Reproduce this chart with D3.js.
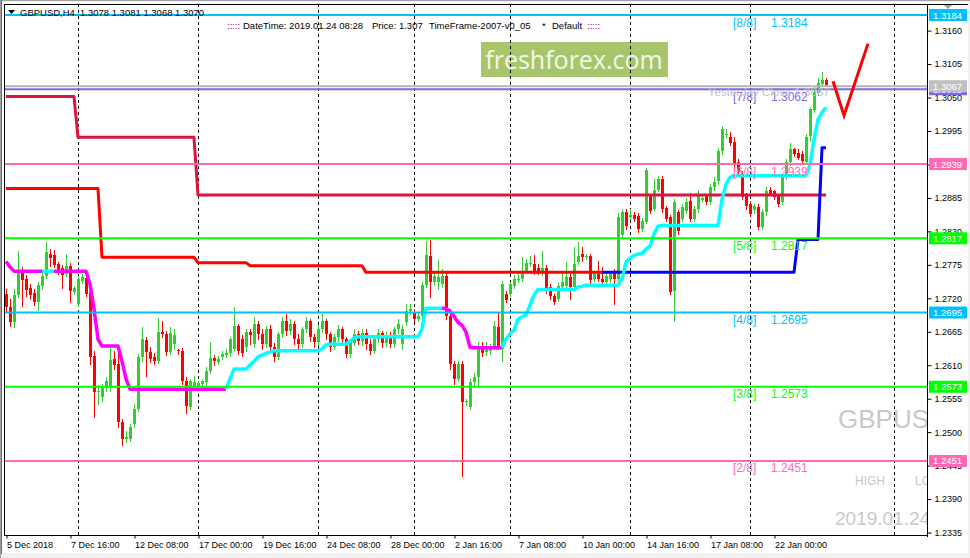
<!DOCTYPE html>
<html><head><meta charset="utf-8">
<script src="https://cdn.jsdelivr.net/npm/d3@7"></script>
<style>body{margin:0;background:#fff;} svg{display:block;font-family:"Liberation Sans",Arial,sans-serif;}</style>
</head><body><svg id="c" width="970" height="558"></svg>
<script>
// ---------------- DATA ----------------
const openPrices = [1.2725,1.2704,1.2679,1.2724,1.2763,1.2750,1.2735,1.2727,1.2712,1.2738,
1.2755,1.2792,1.2789,1.2774,1.2768,1.2758,1.2771,1.2729,1.2709,1.2747,
1.2751,1.2729,1.2624,1.2565,1.2556,1.2571,1.2571,1.2619,1.2610,1.2515,
1.2487,1.2487,1.2512,1.2537,1.2622,1.2650,1.2630,1.2622,1.2615,1.2663,
1.2660,1.2630,1.2643,1.2633,1.2632,1.2583,1.2540,1.2574,1.2574,1.2578,
1.2581,1.2599,1.2620,1.2614,1.2622,1.2625,1.2628,1.2635,1.2673,1.2651,
1.2638,1.2663,1.2643,1.2676,1.2660,1.2643,1.2668,1.2638,1.2622,1.2660,
1.2681,1.2665,1.2676,1.2651,1.2643,1.2668,1.2681,1.2655,1.2646,1.2668,
1.2681,1.2660,1.2638,1.2655,1.2668,1.2651,1.2627,1.2646,1.2660,1.2648,
1.2661,1.2643,1.2632,1.2651,1.2661,1.2645,1.2658,1.2643,1.2668,1.2643,
1.2679,1.2697,1.2696,1.2684,1.2689,1.2740,1.2788,1.2745,1.2745,1.2742,
1.2755,1.2689,1.2610,1.2586,1.2610,1.2548,1.2540,1.2581,1.2589,1.2635,
1.2630,1.2632,1.2638,1.2671,1.2635,1.2725,1.2725,1.2738,1.2748,1.2750,
1.2763,1.2774,1.2774,1.2768,1.2761,1.2768,1.2737,1.2722,1.2717,1.2737,
1.2738,1.2753,1.2737,1.2778,1.2791,1.2786,1.2788,1.2750,1.2758,1.2750,
1.2745,1.2750,1.2761,1.2750,1.2822,1.2860,1.2853,1.2856,1.2853,1.2832,
1.2845,1.2886,1.2866,1.2897,1.2915,1.2866,1.2852,1.2730,1.2860,1.2848,
1.2861,1.2878,1.2848,1.2865,1.2881,1.2886,1.2878,1.2902,1.2910,1.2960,
1.2988,1.2984,1.2976,1.2942,1.2922,1.2886,1.2873,1.2863,1.2868,1.2835,
1.2860,1.2897,1.2894,1.2886,1.2876,1.2917,1.2942,1.2963,1.2958,1.2955,
1.2943,1.2984,1.3029,1.3056,1.3071,1.3078];
const highPrices = [1.2733,1.2717,1.2733,1.2796,1.2770,1.2756,1.2742,1.2733,1.2745,1.2761,
1.2811,1.2799,1.2797,1.2778,1.2773,1.2791,1.2776,1.2738,1.2755,1.2758,
1.2756,1.2733,1.2632,1.2576,1.2578,1.2589,1.2638,1.2632,1.2635,1.2520,
1.2501,1.2512,1.2545,1.2627,1.2671,1.2655,1.2638,1.2628,1.2686,1.2681,
1.2665,1.2671,1.2668,1.2635,1.2637,1.2589,1.2586,1.2591,1.2583,1.2586,
1.2606,1.2646,1.2625,1.2624,1.2632,1.2635,1.2655,1.2704,1.2676,1.2658,
1.2668,1.2668,1.2688,1.2681,1.2668,1.2673,1.2674,1.2645,1.2663,1.2688,
1.2692,1.2684,1.2681,1.2660,1.2671,1.2688,1.2684,1.2660,1.2674,1.2692,
1.2684,1.2663,1.2660,1.2674,1.2671,1.2655,1.2651,1.2668,1.2665,1.2668,
1.2668,1.2651,1.2655,1.2668,1.2665,1.2663,1.2663,1.2671,1.2684,1.2674,
1.2709,1.2709,1.2701,1.2694,1.2745,1.2812,1.2815,1.2760,1.2781,1.2766,
1.2763,1.2701,1.2615,1.2615,1.2615,1.2553,1.2586,1.2596,1.2646,1.2646,
1.2646,1.2643,1.2681,1.2696,1.2747,1.2730,1.2745,1.2756,1.2763,1.2786,
1.2783,1.2788,1.2789,1.2774,1.2796,1.2773,1.2742,1.2725,1.2743,1.2763,
1.2778,1.2758,1.2802,1.2811,1.2802,1.2792,1.2792,1.2763,1.2779,1.2770,
1.2760,1.2763,1.2766,1.2858,1.2865,1.2865,1.2865,1.2860,1.2858,1.2850,
1.2933,1.2889,1.2914,1.2920,1.2920,1.2870,1.2856,1.2881,1.2863,1.2873,
1.2884,1.2892,1.2870,1.2897,1.2889,1.2889,1.2907,1.2917,1.2966,1.3001,
1.2996,1.2991,1.2983,1.2947,1.2927,1.2891,1.2878,1.2874,1.2873,1.2865,
1.2901,1.2901,1.2897,1.2889,1.2920,1.2947,1.2974,1.2966,1.2963,1.2960,
1.2988,1.3032,1.3065,1.3081,1.3091,1.3081];
const lowPrices = [1.2697,1.2673,1.2671,1.2720,1.2706,1.2722,1.2717,1.2707,1.2699,1.2733,
1.2751,1.2771,1.2770,1.2758,1.2735,1.2755,1.2712,1.2725,1.2706,1.2743,
1.2722,1.2610,1.2524,1.2545,1.2550,1.2566,1.2566,1.2602,1.2507,1.2478,
1.2482,1.2484,1.2507,1.2533,1.2615,1.2591,1.2614,1.2610,1.2612,1.2655,
1.2625,1.2627,1.2635,1.2627,1.2578,1.2530,1.2537,1.2571,1.2569,1.2573,
1.2578,1.2596,1.2609,1.2610,1.2619,1.2622,1.2624,1.2632,1.2627,1.2624,
1.2632,1.2643,1.2638,1.2651,1.2635,1.2638,1.2632,1.2615,1.2619,1.2655,
1.2658,1.2660,1.2643,1.2635,1.2638,1.2663,1.2648,1.2638,1.2642,1.2663,
1.2651,1.2632,1.2635,1.2648,1.2645,1.2622,1.2622,1.2642,1.2643,1.2642,
1.2635,1.2627,1.2628,1.2646,1.2638,1.2640,1.2638,1.2638,1.2661,1.2635,
1.2674,1.2692,1.2681,1.2681,1.2684,1.2737,1.2720,1.2740,1.2733,1.2737,
1.2684,1.2602,1.2578,1.2583,1.2427,1.2543,1.2537,1.2576,1.2576,1.2624,
1.2625,1.2627,1.2635,1.2635,1.2615,1.2712,1.2722,1.2735,1.2745,1.2747,
1.2760,1.2771,1.2758,1.2758,1.2756,1.2727,1.2717,1.2709,1.2714,1.2733,
1.2735,1.2717,1.2733,1.2774,1.2779,1.2783,1.2743,1.2747,1.2747,1.2738,
1.2742,1.2745,1.2709,1.2747,1.2819,1.2832,1.2848,1.2845,1.2827,1.2829,
1.2842,1.2858,1.2863,1.2894,1.2861,1.2845,1.2725,1.2681,1.2824,1.2845,
1.2858,1.2845,1.2845,1.2861,1.2878,1.2873,1.2873,1.2897,1.2906,1.2955,
1.2983,1.2970,1.2933,1.2920,1.2881,1.2865,1.2853,1.2858,1.2832,1.2832,
1.2856,1.2888,1.2881,1.2870,1.2873,1.2914,1.2938,1.2952,1.2947,1.2940,
1.2940,1.2979,1.3024,1.3053,1.3068,1.3068];
const closePrices = [1.2704,1.2679,1.2724,1.2763,1.2748,1.2732,1.2724,1.2712,1.2740,1.2755,
1.2794,1.2786,1.2773,1.2763,1.2756,1.2771,1.2730,1.2735,1.2750,1.2753,
1.2725,1.2622,1.2565,1.2566,1.2571,1.2583,1.2617,1.2609,1.2515,1.2487,
1.2491,1.2507,1.2537,1.2622,1.2651,1.2630,1.2619,1.2615,1.2663,1.2660,
1.2630,1.2661,1.2658,1.2632,1.2583,1.2542,1.2583,1.2581,1.2579,1.2583,
1.2599,1.2620,1.2615,1.2619,1.2627,1.2628,1.2651,1.2673,1.2632,1.2628,
1.2663,1.2658,1.2676,1.2660,1.2643,1.2668,1.2638,1.2622,1.2660,1.2681,
1.2665,1.2676,1.2651,1.2643,1.2668,1.2681,1.2655,1.2646,1.2668,1.2681,
1.2660,1.2638,1.2655,1.2668,1.2651,1.2627,1.2646,1.2660,1.2648,1.2661,
1.2643,1.2632,1.2651,1.2661,1.2645,1.2658,1.2643,1.2668,1.2676,1.2668,
1.2697,1.2701,1.2684,1.2689,1.2740,1.2789,1.2745,1.2755,1.2753,1.2755,
1.2689,1.2610,1.2586,1.2610,1.2548,1.2550,1.2581,1.2589,1.2635,1.2628,
1.2635,1.2637,1.2673,1.2640,1.2742,1.2715,1.2742,1.2750,1.2750,1.2761,
1.2776,1.2776,1.2761,1.2761,1.2768,1.2730,1.2722,1.2712,1.2738,1.2745,
1.2753,1.2737,1.2774,1.2788,1.2786,1.2788,1.2748,1.2758,1.2750,1.2745,
1.2755,1.2758,1.2750,1.2852,1.2860,1.2837,1.2856,1.2850,1.2832,1.2845,
1.2930,1.2861,1.2897,1.2915,1.2865,1.2848,1.2729,1.2876,1.2829,1.2868,
1.2876,1.2848,1.2865,1.2886,1.2884,1.2876,1.2902,1.2910,1.2960,1.2996,
1.2989,1.2974,1.2938,1.2925,1.2884,1.2870,1.2856,1.2870,1.2835,1.2860,
1.2894,1.2891,1.2884,1.2873,1.2917,1.2942,1.2963,1.2955,1.2950,1.2943,
1.2984,1.3029,1.3058,1.3073,1.3078,1.3070];

// trailing step indicator (magenta = down, cyan = up)
const trailValues = [1.2779,1.2770,1.2763,1.2763,1.2763,1.2763,1.2763,1.2763,1.2763,1.2763,
1.2763,1.2763,1.2763,1.2763,1.2763,1.2763,1.2763,1.2763,1.2763,1.2763,
1.2763,1.2742,1.2701,1.2651,1.2640,1.2640,1.2640,1.2640,1.2640,1.2615,
1.2586,1.2569,1.2569,1.2569,1.2569,1.2569,1.2569,1.2569,1.2569,1.2569,
1.2569,1.2569,1.2569,1.2569,1.2569,1.2569,1.2569,1.2569,1.2569,1.2569,
1.2569,1.2569,1.2569,1.2569,1.2569,1.2569,1.2586,1.2602,1.2602,1.2602,
1.2602,1.2609,1.2615,1.2622,1.2625,1.2628,1.2630,1.2632,1.2632,1.2632,
1.2632,1.2632,1.2632,1.2632,1.2632,1.2632,1.2632,1.2632,1.2632,1.2635,
1.2642,1.2643,1.2643,1.2643,1.2643,1.2643,1.2648,1.2653,1.2655,1.2655,
1.2655,1.2655,1.2655,1.2655,1.2655,1.2655,1.2655,1.2655,1.2655,1.2655,
1.2655,1.2655,1.2655,1.2655,1.2668,1.2702,1.2702,1.2702,1.2702,1.2702,
1.2702,1.2697,1.2689,1.2679,1.2674,1.2663,1.2638,1.2637,1.2637,1.2637,
1.2637,1.2637,1.2637,1.2637,1.2637,1.2651,1.2660,1.2666,1.2684,1.2688,
1.2691,1.2707,1.2724,1.2733,1.2733,1.2733,1.2733,1.2733,1.2733,1.2733,
1.2733,1.2733,1.2733,1.2737,1.2738,1.2740,1.2740,1.2740,1.2740,1.2740,
1.2740,1.2740,1.2740,1.2740,1.2750,1.2778,1.2784,1.2789,1.2791,1.2792,
1.2799,1.2804,1.2824,1.2837,1.2838,1.2838,1.2838,1.2838,1.2838,1.2838,
1.2838,1.2838,1.2838,1.2838,1.2838,1.2838,1.2838,1.2838,1.2838,1.2881,
1.2906,1.2917,1.2920,1.2920,1.2920,1.2920,1.2920,1.2920,1.2920,1.2920,
1.2920,1.2920,1.2920,1.2920,1.2920,1.2920,1.2920,1.2920,1.2920,1.2920,
1.2920,1.2938,1.2979,1.3012,1.3024,1.3032];
const trendRunStart = [0, 10, 13, 56, 110, 125];
const trendRunUp    = [false, true, false, true, false, true];

// two step lines (bar where level starts, level)
const stepAStart = [0, 18, 48];
const stepAValue = [1.3050, 1.2983, 1.2888];
const stepBStart = [0, 24, 48, 61, 90, 198, 204];
const stepBValue = [1.2899, 1.2786, 1.2777, 1.2772, 1.2761, 1.2815, 1.2966];
const stepBBlueFrom = 149;

// Murrey levels
const levelValues = [1.3184, 1.3062, 1.2939, 1.2817, 1.2695, 1.2573, 1.2451];
const levelNames  = ["[8/8]", "[7/8]", "[6/8]", "[5/8]", "[4/8]", "[3/8]", "[2/8]"];
const levelColors = ["#00BFFF", "#7B68EE", "#FF69B4", "#00FF00", "#00BFFF", "#00FF00", "#FF69B4"];
const yesterdayClose = 1.3067;

// forecast arrow (bar index, price)
const forecastIdx   = [206.75, 209.5, 215.5];
const forecastPrice = [1.3075, 1.3019, 1.3137];

// axes
const xTickIdx = [0, 16, 32, 48, 64, 80, 96, 112, 128, 144, 160, 176, 192];
const xTickLabels = ["5 Dec 2018", "7 Dec 16:00", "12 Dec 08:00", "17 Dec 00:00", "19 Dec 16:00", "24 Dec 08:00",
  "28 Dec 00:00", "2 Jan 16:00", "7 Jan 08:00", "10 Jan 00:00", "14 Jan 16:00", "17 Jan 08:00", "22 Jan 00:00"];
const separatorIdx = [18, 48, 78, 102, 126, 156, 186, 222];
const yTickValues = [1.2335, 1.2390, 1.2445, 1.2500, 1.2555, 1.2610, 1.2665, 1.2720, 1.2775, 1.2830,
  1.2885, 1.2940, 1.2995, 1.3050, 1.3105, 1.3160];

// ---------------- DRAW ----------------
const W = 970, H = 558;
const PL = 4, PR = 927, PT = 4, PB = 536;
const svg = d3.select("#c");
const x = d3.scaleLinear().domain([0, 1]).range([6, 10]);
const y = d3.scaleLinear().domain([1.23277, 1.32021]).range([PB, PT]);
const n = closePrices.length;

svg.append("rect").attr("width", W).attr("height", H).attr("fill", "#F0F0F0");
svg.append("rect").attr("x", 2).attr("y", 2).attr("width", 966).attr("height", 551).attr("fill", "#fff");
svg.append("line").attr("x1", 0).attr("x2", W).attr("y1", 0.5).attr("y2", 0.5).attr("stroke", "#A0A0A0");
svg.append("line").attr("x1", 0.5).attr("x2", 0.5).attr("y1", 0).attr("y2", H).attr("stroke", "#A0A0A0");
svg.append("line").attr("x1", 1.5).attr("x2", 1.5).attr("y1", 0).attr("y2", 554).attr("stroke", "#696969");

const defs = svg.append("defs");
defs.append("clipPath").attr("id", "plot").append("rect")
  .attr("x", PL + 1).attr("y", PT + 1).attr("width", PR - PL - 1).attr("height", PB - PT - 1);
const plot = svg.append("g").attr("clip-path", "url(#plot)");

// watermark texts
plot.append("text").attr("x", 838).attr("y", 428).attr("font-size", 26).attr("fill", "#C8C8C8").text("GBPUSD");
plot.append("text").attr("x", 855).attr("y", 485).attr("font-size", 12).attr("fill", "#C8C8C8").text("HIGH");
plot.append("text").attr("x", 915).attr("y", 485).attr("font-size", 12).attr("fill", "#C8C8C8").text("LOW");
plot.append("text").attr("x", 835).attr("y", 525).attr("font-size", 19).attr("fill", "#C8C8C8").text("2019.01.24 08:28");

// logo
plot.append("rect").attr("x", 481).attr("y", 42).attr("width", 187).attr("height", 35).attr("fill", "#A7C66B");
plot.append("text").attr("x", 574).attr("y", 69).attr("text-anchor", "middle")
  .attr("font-family", "'Open Sans', 'DejaVu Sans', sans-serif").attr("font-size", 25)
  .attr("fill", "#F3F8EA").text("freshforex.com");

// separators
plot.selectAll(".sep").data(separatorIdx).enter().append("line")
  .attr("x1", d => x(d) + 0.5).attr("x2", d => x(d) + 0.5).attr("y1", PT).attr("y2", PB)
  .attr("stroke", "#000").attr("stroke-dasharray", "3,3");

// candles
const bars = d3.range(n);
plot.selectAll(".wick").data(bars).enter().append("line")
  .attr("x1", i => x(i) + 0.5).attr("x2", i => x(i) + 0.5)
  .attr("y1", i => Math.round(y(highPrices[i]))).attr("y2", i => Math.round(y(lowPrices[i])) + 1)
  .attr("stroke", i => closePrices[i] >= openPrices[i] ? "#32CD32" : "#FF0000");
plot.selectAll(".body").data(bars).enter().append("rect")
  .attr("x", i => x(i) - 1).attr("width", 3)
  .attr("y", i => Math.round(Math.min(y(openPrices[i]), y(closePrices[i]))))
  .attr("height", i => Math.max(1, Math.round(Math.abs(y(openPrices[i]) - y(closePrices[i])))))
  .attr("fill", i => closePrices[i] >= openPrices[i] ? "#32CD32" : "#FF0000");

// step lines
function runValues(starts, values) {
  return bars.map(i => { let v = values[0]; starts.forEach((s, k) => { if (i >= s) v = values[k]; }); return v; });
}
const stepA = runValues(stepAStart, stepAValue);
const stepB = runValues(stepBStart, stepBValue);
const trendUp = runValues(trendRunStart, trendRunUp);
const line = d3.line().x(d => x(d.i)).y(d => y(d.v));

plot.append("path").attr("d", line(bars.map(i => ({i, v: stepA[i]}))))
  .attr("fill", "none").attr("stroke", "#DC143C").attr("stroke-width", 3).attr("stroke-linejoin", "round");
plot.append("path").attr("d", line(bars.filter(i => i <= stepBBlueFrom).map(i => ({i, v: stepB[i]}))))
  .attr("fill", "none").attr("stroke", "#FF0000").attr("stroke-width", 3).attr("stroke-linejoin", "round");
plot.append("path").attr("d", line(bars.filter(i => i >= stepBBlueFrom).map(i => ({i, v: stepB[i]}))))
  .attr("fill", "none").attr("stroke", "#0000FF").attr("stroke-width", 3).attr("stroke-linejoin", "round");

// trailing line: runs of same colour
let runs = [], cur = null;
for (let i = 1; i < n; i++) {
  const c = trendUp[i] ? "#00FFFF" : "#FF00FF";
  if (!cur || cur.c !== c) { cur = {c, pts: [{i: i - 1, v: trailValues[i - 1]}]}; runs.push(cur); }
  cur.pts.push({i, v: trailValues[i]});
}
runs.forEach(r => plot.append("path").attr("d", line(r.pts)).attr("fill", "none")
  .attr("stroke", r.c).attr("stroke-width", 3.5).attr("stroke-linejoin", "round"));

// level lines
plot.append("line").attr("x1", PL).attr("x2", PR).attr("y1", y(yesterdayClose)).attr("y2", y(yesterdayClose))
  .attr("stroke", "#B4B4B4").attr("stroke-width", 2);
levelValues.forEach((v, k) => {
  plot.append("line").attr("x1", PL).attr("x2", PR).attr("y1", y(v)).attr("y2", y(v))
    .attr("stroke", levelColors[k]).attr("stroke-width", 2);
});
levelValues.forEach((v, k) => {
  plot.append("text").attr("x", 733).attr("y", y(v) + 11.5).attr("font-size", 12)
    .attr("fill", levelColors[k]).text(levelNames[k]);
  plot.append("text").attr("x", 771).attr("y", y(v) + 11.5).attr("font-size", 12)
    .attr("fill", levelColors[k]).text(d3.format(".4f")(v));
});
plot.append("text").attr("x", 708).attr("y", y(yesterdayClose) + 10).attr("font-size", 11.5)
  .attr("fill", "#C0C0C0").text("Yesterday Close " + d3.format(".4f")(yesterdayClose));

// forecast arrow
plot.append("path").attr("d", line(forecastIdx.map((d, k) => ({i: d, v: forecastPrice[k]}))))
  .attr("fill", "none").attr("stroke", "#FF0000").attr("stroke-width", 3).attr("stroke-linejoin", "miter");

// header texts
svg.append("path").attr("d", "M8,10 L15,10 L11.5,14 Z").attr("fill", "#000");
svg.append("text").attr("x", 20).attr("y", 16).attr("font-size", 9.5).attr("fill", "#000").text("GBPUSD,H4");
svg.append("text").attr("x", 80).attr("y", 16).attr("font-size", 9.5).attr("fill", "#000")
  .text([openPrices[n-1], highPrices[n-1], lowPrices[n-1], closePrices[n-1]].map(d3.format(".4f")).join(" "));
const info = svg.append("text").attr("y", 29).attr("font-size", 9.5);
info.append("tspan").attr("x", 227).attr("fill", "#800080").text(":::::");
info.append("tspan").attr("x", 243).attr("fill", "#000").text("DateTime: 2019.01.24 08:28");
info.append("tspan").attr("x", 372).attr("fill", "#000").text("Price: 1.307");
info.append("tspan").attr("x", 429).attr("fill", "#000").text("TimeFrame-2007-v0_05");
info.append("tspan").attr("x", 542).attr("fill", "#000").text("*");
info.append("tspan").attr("x", 552).attr("fill", "#000").text("Default");
info.append("tspan").attr("x", 587).attr("fill", "#800080").text(":::::");
svg.append("path").attr("d", "M943,4 L953,4 L948,9 Z").attr("fill", "#A0A0A0");

// frame
svg.append("line").attr("x1", PL).attr("x2", 968).attr("y1", PT + 0.5).attr("y2", PT + 0.5).attr("stroke", "#000");
svg.append("line").attr("x1", PL + 0.5).attr("x2", PL + 0.5).attr("y1", PT).attr("y2", PB).attr("stroke", "#000");
svg.append("line").attr("x1", PR + 0.5).attr("x2", PR + 0.5).attr("y1", PT).attr("y2", PB + 1).attr("stroke", "#000");
svg.append("line").attr("x1", PL).attr("x2", PR + 1).attr("y1", PB - 0.5).attr("y2", PB - 0.5).attr("stroke", "#000");

// y axis
const yAxis = d3.axisRight(y).tickValues(yTickValues).tickSize(4).tickPadding(3).tickFormat(d3.format(".4f"));
const ya = svg.append("g").attr("transform", `translate(${PR + 0.5},1)`).call(yAxis);
ya.select(".domain").remove();
ya.selectAll("text").attr("font-size", 9).attr("font-family", "'Liberation Sans',Arial,sans-serif").attr("fill", "#000");
ya.selectAll("line").attr("stroke", "#000");

// price boxes
const boxVals = [levelValues[1], yesterdayClose].concat(levelValues.filter((v, k) => k !== 1));
const boxCols = [levelColors[1], "#C0C0C0"].concat(levelColors.filter((v, k) => k !== 1));
boxVals.forEach((v, k) => {
  const yy = y(v);
  svg.append("rect").attr("x", 929).attr("y", yy - 6).attr("width", 38).attr("height", 12).attr("fill", boxCols[k]);
  svg.append("text").attr("x", 933).attr("y", yy + 3.5).attr("font-size", 9.5).attr("fill", "#fff").text(d3.format(".4f")(v));
});

// x axis
const xAxis = d3.axisBottom(x).tickValues(xTickIdx).tickSize(3).tickFormat((d, k) => xTickLabels[k]);
const xa = svg.append("g").attr("transform", `translate(0.5,${PB - 0.5})`).call(xAxis);
xa.select(".domain").remove();
xa.selectAll("line").attr("stroke", "#000");
xa.selectAll("text").attr("font-size", 9).attr("font-family", "'Liberation Sans',Arial,sans-serif")
  .attr("fill", "#000").attr("text-anchor", "start").attr("x", 0).attr("y", 6).attr("dy", "0.71em");
svg.selectAll(".septick").data(separatorIdx).enter().append("line")
  .attr("x1", d => x(d) + 0.5).attr("x2", d => x(d) + 0.5).attr("y1", PB - 4).attr("y2", PB).attr("stroke", "#000");
</script></body></html>
